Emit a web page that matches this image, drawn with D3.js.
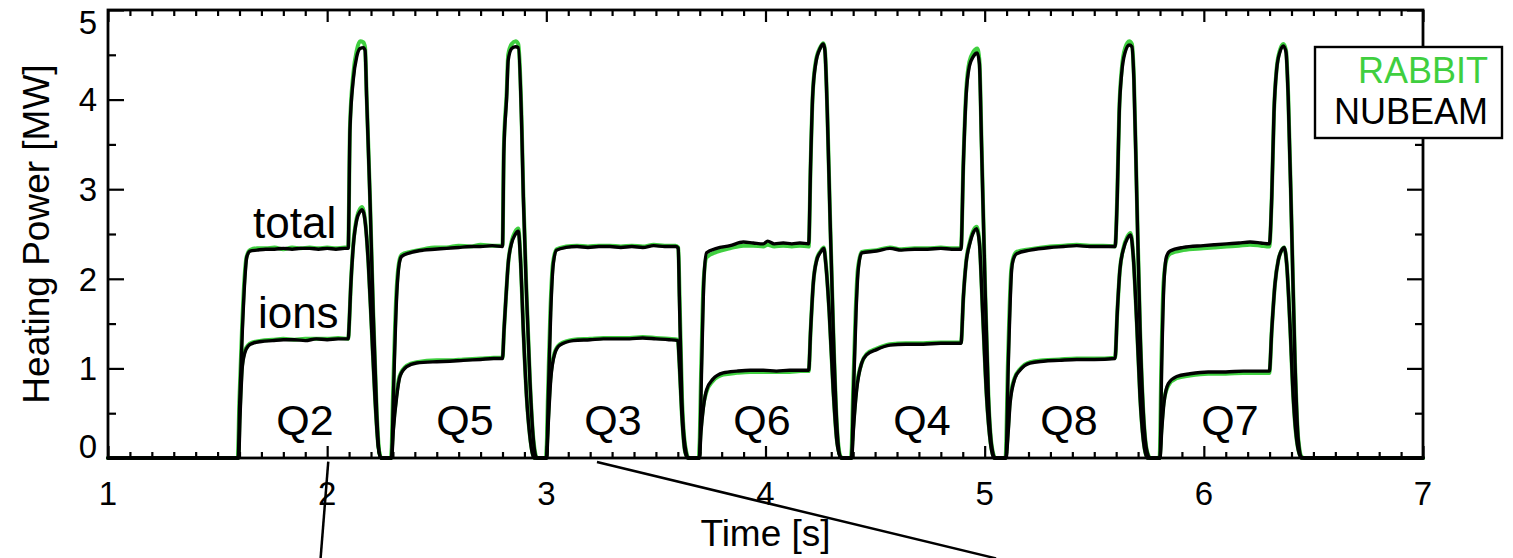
<!DOCTYPE html>
<html><head><meta charset="utf-8">
<script src="https://cdn.jsdelivr.net/npm/d3@7"></script>
<style>html,body{margin:0;padding:0;background:#fff;} svg{display:block;} text{font-family:"Liberation Sans",Arial,Helvetica,sans-serif;}</style>
</head><body><svg id="c" width="1513" height="558"></svg>
<script>
const xTicks = [1,2,3,4,5,6,7];
const yTicks = [0,1,2,3,4,5];
const xTitle = "Time [s]";
const yTitle = "Heating Power [MW]";
const legendLabels = ["RABBIT","NUBEAM"];
const qLabels = ["Q2","Q5","Q3","Q6","Q4","Q8","Q7"];
const qTimes = [1.899,2.629,3.304,3.984,4.714,5.385,6.119];
const seriesLabels = ["total","ions"];
const seriesLabelT = [1.662,1.684];
const seriesLabelV = [2.455,1.451];
const leaderLines = [[[2.005,-0.04],[1.970,-1.12]],[[3.231,-0.045],[5.052,-1.12]]];

const nubeamTotal = [
[1.000,0],[1.594,0],[1.601,0.62],[1.613,1.42],[1.624,1.98],[1.633,2.24],[1.648,2.31],[1.680,2.32],[1.720,2.33],[1.760,2.33],[1.800,2.34],[1.840,2.33],[1.880,2.34],[1.920,2.34],[1.960,2.33],[2.000,2.34],[2.040,2.33],[2.080,2.34],[2.096,2.34],[2.104,3.66],[2.119,4.22],[2.135,4.48],[2.150,4.57],[2.165,4.58],[2.173,4.55],[2.180,4.03],[2.195,2.92],[2.210,1.62],[2.226,0.50],[2.236,0.08],[2.245,0],
[2.294,0],[2.302,0.68],[2.317,1.80],[2.329,2.17],[2.340,2.25],[2.378,2.29],[2.439,2.32],[2.490,2.33],[2.545,2.34],[2.600,2.35],[2.652,2.36],[2.700,2.36],[2.753,2.37],[2.800,2.36],[2.806,3.40],[2.819,4.03],[2.826,4.44],[2.842,4.57],[2.860,4.59],[2.872,4.58],[2.888,3.66],[2.895,2.92],[2.910,1.80],[2.925,0.87],[2.941,0.20],[2.956,0],
[3.001,0],[3.009,0.68],[3.020,1.62],[3.032,2.17],[3.047,2.32],[3.090,2.35],[3.140,2.36],[3.190,2.35],[3.240,2.36],[3.290,2.36],[3.340,2.35],[3.390,2.36],[3.440,2.35],[3.490,2.37],[3.540,2.36],[3.590,2.36],[3.602,2.34],[3.607,1.80],[3.618,0.68],[3.633,0.13],[3.648,0],
[3.698,0],[3.709,1.06],[3.719,1.99],[3.731,2.29],[3.777,2.34],[3.838,2.37],[3.899,2.41],[3.944,2.40],[3.990,2.39],[4.010,2.42],[4.040,2.39],[4.081,2.40],[4.120,2.39],[4.157,2.40],[4.197,2.39],[4.206,3.29],[4.215,4.03],[4.229,4.40],[4.249,4.57],[4.264,4.62],[4.271,4.55],[4.282,3.85],[4.294,2.73],[4.309,1.43],[4.325,0.39],[4.340,0.02],[4.350,0],
[4.393,0],[4.401,0.68],[4.413,1.62],[4.423,2.10],[4.439,2.29],[4.507,2.31],[4.568,2.34],[4.620,2.32],[4.680,2.33],[4.740,2.33],[4.800,2.34],[4.850,2.33],[4.892,2.33],[4.903,3.29],[4.915,4.03],[4.930,4.37],[4.948,4.48],[4.966,4.52],[4.976,4.40],[4.986,3.47],[5.001,1.99],[5.017,0.68],[5.032,0.13],[5.047,0],
[5.097,0],[5.108,1.06],[5.123,2.10],[5.130,2.21],[5.146,2.28],[5.207,2.32],[5.298,2.35],[5.360,2.36],[5.420,2.37],[5.480,2.36],[5.540,2.36],[5.595,2.36],[5.605,2.92],[5.614,3.85],[5.625,4.29],[5.640,4.52],[5.660,4.61],[5.672,4.59],[5.681,4.22],[5.694,2.92],[5.709,1.43],[5.724,0.50],[5.739,0.09],[5.754,0],
[5.800,0],[5.808,1.06],[5.818,1.95],[5.830,2.25],[5.846,2.31],[5.906,2.35],[5.998,2.37],[6.050,2.38],[6.104,2.39],[6.160,2.40],[6.211,2.41],[6.260,2.40],[6.299,2.39],[6.310,2.92],[6.320,3.85],[6.332,4.33],[6.347,4.53],[6.363,4.60],[6.375,4.53],[6.385,4.03],[6.401,2.54],[6.416,1.06],[6.431,0.20],[6.446,0.01],[6.460,0],[7.000,0]
];
const nubeamIons = [
[1.000,0],[1.596,0],[1.603,0.50],[1.613,1.02],[1.625,1.18],[1.640,1.25],[1.660,1.28],[1.700,1.30],[1.750,1.31],[1.800,1.32],[1.850,1.32],[1.900,1.31],[1.950,1.33],[2.000,1.32],[2.050,1.33],[2.096,1.33],[2.101,1.52],[2.107,1.88],[2.119,2.36],[2.135,2.66],[2.150,2.75],[2.158,2.77],[2.166,2.74],[2.175,2.60],[2.188,2.17],[2.203,1.43],[2.218,0.68],[2.233,0.13],[2.245,0],
[2.294,0],[2.302,0.31],[2.317,0.68],[2.332,0.91],[2.363,1.02],[2.408,1.06],[2.500,1.075],[2.560,1.08],[2.621,1.09],[2.700,1.10],[2.760,1.11],[2.800,1.11],[2.807,1.43],[2.816,1.80],[2.826,2.17],[2.842,2.40],[2.857,2.49],[2.872,2.53],[2.883,2.17],[2.895,1.43],[2.910,0.68],[2.925,0.24],[2.945,0],
[3.001,0],[3.009,0.39],[3.020,0.87],[3.039,1.17],[3.062,1.26],[3.123,1.31],[3.200,1.32],[3.260,1.33],[3.320,1.33],[3.380,1.33],[3.440,1.34],[3.500,1.33],[3.560,1.32],[3.600,1.31],[3.607,1.06],[3.618,0.50],[3.633,0.07],[3.645,0],
[3.698,0],[3.706,0.30],[3.716,0.55],[3.731,0.76],[3.760,0.88],[3.807,0.95],[3.870,0.97],[3.930,0.98],[3.990,0.98],[4.050,0.97],[4.110,0.98],[4.160,0.98],[4.197,0.98],[4.206,1.43],[4.218,1.95],[4.234,2.21],[4.252,2.30],[4.266,2.34],[4.275,2.17],[4.291,1.62],[4.309,0.76],[4.327,0.16],[4.345,0],
[4.393,0],[4.401,0.31],[4.416,0.76],[4.439,1.06],[4.461,1.15],[4.507,1.21],[4.568,1.26],[4.640,1.27],[4.720,1.27],[4.800,1.28],[4.892,1.28],[4.903,1.80],[4.915,2.17],[4.933,2.40],[4.951,2.53],[4.963,2.56],[4.976,2.40],[4.991,1.62],[5.009,0.68],[5.027,0.16],[5.042,0],
[5.097,0],[5.108,0.31],[5.116,0.61],[5.138,0.89],[5.161,0.98],[5.207,1.06],[5.268,1.08],[5.340,1.09],[5.420,1.10],[5.500,1.10],[5.595,1.11],[5.605,1.62],[5.617,2.10],[5.632,2.32],[5.651,2.45],[5.666,2.49],[5.678,2.25],[5.694,1.50],[5.709,0.68],[5.724,0.20],[5.742,0],
[5.800,0],[5.808,0.31],[5.818,0.61],[5.838,0.83],[5.876,0.91],[5.937,0.94],[6.020,0.96],[6.100,0.96],[6.180,0.97],[6.250,0.97],[6.299,0.97],[6.310,1.43],[6.325,1.95],[6.340,2.21],[6.355,2.32],[6.366,2.35],[6.378,2.17],[6.393,1.50],[6.408,0.68],[6.426,0.16],[6.445,0],[7.000,0]
];
const rabbitTotal = [
[1.000,0],[1.592,0],[1.599,0.62],[1.611,1.42],[1.622,1.98],[1.632,2.24],[1.648,2.32],[1.680,2.34],[1.720,2.34],[1.760,2.35],[1.800,2.33],[1.840,2.35],[1.880,2.34],[1.920,2.35],[1.960,2.34],[2.000,2.35],[2.040,2.34],[2.080,2.35],[2.096,2.35],[2.104,3.70],[2.119,4.28],[2.135,4.55],[2.150,4.65],[2.165,4.64],[2.173,4.58],[2.180,4.05],[2.195,2.94],[2.210,1.64],[2.226,0.52],[2.238,0.06],[2.248,0],
[2.292,0],[2.300,0.68],[2.315,1.80],[2.327,2.17],[2.340,2.27],[2.378,2.30],[2.439,2.33],[2.490,2.35],[2.545,2.35],[2.600,2.37],[2.652,2.36],[2.700,2.38],[2.753,2.37],[2.800,2.37],[2.806,3.45],[2.819,4.08],[2.826,4.50],[2.842,4.62],[2.860,4.65],[2.872,4.62],[2.888,3.70],[2.895,2.95],[2.910,1.82],[2.925,0.88],[2.941,0.21],[2.958,0],
[2.999,0],[3.007,0.68],[3.018,1.62],[3.030,2.17],[3.047,2.33],[3.090,2.36],[3.140,2.37],[3.190,2.36],[3.240,2.37],[3.290,2.37],[3.340,2.36],[3.390,2.37],[3.440,2.36],[3.490,2.38],[3.540,2.37],[3.590,2.37],[3.602,2.35],[3.608,1.80],[3.619,0.68],[3.634,0.13],[3.650,0],
[3.696,0],[3.707,1.06],[3.717,1.95],[3.731,2.24],[3.777,2.30],[3.838,2.34],[3.899,2.37],[3.944,2.37],[3.990,2.36],[4.010,2.38],[4.040,2.36],[4.081,2.37],[4.120,2.36],[4.157,2.37],[4.197,2.36],[4.206,3.29],[4.215,4.03],[4.229,4.42],[4.249,4.58],[4.264,4.63],[4.271,4.56],[4.282,3.87],[4.294,2.75],[4.309,1.45],[4.325,0.40],[4.342,0.02],[4.352,0],
[4.391,0],[4.399,0.68],[4.411,1.62],[4.421,2.10],[4.439,2.30],[4.507,2.32],[4.568,2.35],[4.620,2.33],[4.680,2.34],[4.740,2.34],[4.800,2.35],[4.850,2.34],[4.892,2.34],[4.903,3.31],[4.915,4.07],[4.930,4.42],[4.948,4.53],[4.966,4.57],[4.976,4.44],[4.986,3.50],[5.001,2.01],[5.017,0.69],[5.032,0.14],[5.049,0],
[5.095,0],[5.106,1.06],[5.121,2.10],[5.130,2.23],[5.146,2.30],[5.207,2.33],[5.298,2.36],[5.360,2.37],[5.420,2.38],[5.480,2.37],[5.540,2.37],[5.595,2.36],[5.605,2.95],[5.614,3.88],[5.625,4.33],[5.640,4.57],[5.660,4.65],[5.672,4.62],[5.681,4.25],[5.694,2.94],[5.709,1.45],[5.724,0.51],[5.739,0.10],[5.756,0],
[5.798,0],[5.806,1.06],[5.816,1.95],[5.830,2.22],[5.846,2.28],[5.906,2.32],[5.998,2.34],[6.050,2.35],[6.104,2.36],[6.160,2.37],[6.211,2.38],[6.260,2.37],[6.299,2.36],[6.310,2.92],[6.320,3.85],[6.332,4.34],[6.347,4.55],[6.363,4.62],[6.375,4.55],[6.385,4.05],[6.401,2.56],[6.416,1.07],[6.431,0.21],[6.448,0.01],[6.462,0],[7.000,0]
];
const rabbitIons = [
[1.000,0],[1.594,0],[1.601,0.50],[1.611,1.02],[1.623,1.19],[1.640,1.26],[1.660,1.29],[1.700,1.31],[1.750,1.32],[1.800,1.33],[1.850,1.32],[1.900,1.33],[1.950,1.33],[2.000,1.33],[2.050,1.34],[2.096,1.33],[2.101,1.52],[2.107,1.88],[2.119,2.38],[2.135,2.68],[2.150,2.78],[2.158,2.80],[2.166,2.76],[2.175,2.61],[2.188,2.18],[2.203,1.44],[2.218,0.69],[2.233,0.14],[2.247,0],
[2.292,0],[2.300,0.31],[2.315,0.68],[2.330,0.91],[2.363,1.03],[2.408,1.07],[2.500,1.09],[2.560,1.09],[2.621,1.10],[2.700,1.11],[2.760,1.12],[2.800,1.12],[2.807,1.43],[2.816,1.80],[2.826,2.17],[2.842,2.42],[2.857,2.52],[2.872,2.56],[2.883,2.19],[2.895,1.44],[2.910,0.69],[2.925,0.25],[2.947,0],
[2.999,0],[3.007,0.39],[3.018,0.87],[3.037,1.17],[3.062,1.27],[3.123,1.32],[3.200,1.33],[3.260,1.34],[3.320,1.34],[3.380,1.34],[3.440,1.35],[3.500,1.34],[3.560,1.33],[3.600,1.32],[3.607,1.06],[3.618,0.50],[3.633,0.07],[3.647,0],
[3.696,0],[3.704,0.30],[3.714,0.55],[3.731,0.74],[3.760,0.86],[3.807,0.93],[3.870,0.95],[3.930,0.96],[3.990,0.96],[4.050,0.96],[4.110,0.96],[4.160,0.97],[4.197,0.97],[4.206,1.43],[4.218,1.95],[4.234,2.22],[4.252,2.31],[4.266,2.35],[4.275,2.18],[4.291,1.63],[4.309,0.77],[4.327,0.17],[4.347,0],
[4.391,0],[4.399,0.31],[4.414,0.76],[4.439,1.06],[4.461,1.16],[4.507,1.22],[4.568,1.27],[4.640,1.28],[4.720,1.28],[4.800,1.29],[4.892,1.29],[4.903,1.80],[4.915,2.18],[4.933,2.42],[4.951,2.55],[4.963,2.58],[4.976,2.42],[4.991,1.63],[5.009,0.69],[5.027,0.17],[5.044,0],
[5.095,0],[5.106,0.31],[5.114,0.61],[5.136,0.89],[5.161,0.99],[5.207,1.07],[5.268,1.09],[5.340,1.10],[5.420,1.11],[5.500,1.11],[5.595,1.12],[5.605,1.62],[5.617,2.10],[5.632,2.33],[5.651,2.47],[5.666,2.51],[5.678,2.26],[5.694,1.51],[5.709,0.69],[5.724,0.21],[5.744,0],
[5.798,0],[5.806,0.31],[5.816,0.61],[5.838,0.81],[5.876,0.89],[5.937,0.92],[6.020,0.94],[6.100,0.94],[6.180,0.95],[6.250,0.95],[6.299,0.95],[6.310,1.43],[6.325,1.95],[6.340,2.21],[6.355,2.32],[6.366,2.35],[6.378,2.17],[6.393,1.50],[6.408,0.68],[6.426,0.16],[6.447,0],[7.000,0]
];

const GREEN = "#3fcf3f";
const svg = d3.select("#c");
const L = 108, R = 1423, T = 10, B = 458;
const x = d3.scaleLinear().domain([1,7]).range([L,R]);
const y = d3.scaleLinear().domain([0,5]).range([B,T]);

const line = d3.line().x(d => x(d[0])).y(d => y(d[1])).curve(d3.curveMonotoneX);

// data lines
[[rabbitTotal,GREEN,4],[rabbitIons,GREEN,4],[nubeamTotal,"#000",3.4],[nubeamIons,"#000",3.4]].forEach(([d,c,w]) => {
  svg.append("path").datum(d).attr("d",line).attr("fill","none").attr("stroke",c)
    .attr("stroke-width",w).attr("stroke-linejoin","round").attr("stroke-linecap","round");
});

// axes ticks (inward)
const minorX = d3.range(10,71).map(v=>v/10).filter(v=>Math.abs(v-Math.round(v))>1e-6);
const minorY = [0.5,1.5,2.5,3.5,4.5];
function styleAxis(g){ g.select(".domain").remove(); g.selectAll("text").remove(); g.selectAll("line").attr("stroke","#000").attr("stroke-width",2.2); }
svg.append("g").attr("transform",`translate(0,${B})`).call(d3.axisBottom(x).tickValues(xTicks).tickSize(-12)).call(styleAxis);
svg.append("g").attr("transform",`translate(0,${B})`).call(d3.axisBottom(x).tickValues(minorX).tickSize(-6)).call(styleAxis);
svg.append("g").attr("transform",`translate(0,${T})`).call(d3.axisTop(x).tickValues(xTicks).tickSize(-12)).call(styleAxis);
svg.append("g").attr("transform",`translate(0,${T})`).call(d3.axisTop(x).tickValues(minorX).tickSize(-6)).call(styleAxis);
svg.append("g").attr("transform",`translate(${L},0)`).call(d3.axisLeft(y).tickValues(yTicks).tickSize(-16)).call(styleAxis);
svg.append("g").attr("transform",`translate(${L},0)`).call(d3.axisLeft(y).tickValues(minorY).tickSize(-8)).call(styleAxis);
svg.append("g").attr("transform",`translate(${R},0)`).call(d3.axisRight(y).tickValues(yTicks).tickSize(-16)).call(styleAxis);
svg.append("g").attr("transform",`translate(${R},0)`).call(d3.axisRight(y).tickValues(minorY).tickSize(-8)).call(styleAxis);

// frame
svg.append("rect").attr("x",L).attr("y",T).attr("width",R-L).attr("height",B-T)
  .attr("fill","none").attr("stroke","#000").attr("stroke-width",2.8);

// tick labels
svg.selectAll(".xl").data(xTicks).enter().append("text")
  .attr("x",d=>x(d)).attr("y",B+47).attr("text-anchor","middle")
  .attr("font-size",33).text(d=>d);
svg.selectAll(".yl").data(yTicks).enter().append("text")
  .attr("x",L-11).attr("y",d=>y(d)).attr("text-anchor","end").attr("font-size",33)
  .attr("dy",d=> d===0 ? "0em" : (d===5 ? "0.72em" : "0.36em")).text(d=>d);

// axis titles
svg.append("text").attr("x",(L+R)/2).attr("y",546).attr("text-anchor","middle").attr("font-size",37).text(xTitle);
svg.append("text").attr("transform",`translate(49,${(T+B)/2}) rotate(-90)`).attr("text-anchor","middle").attr("font-size",37).text(yTitle);

// annotations
svg.selectAll(".q").data(qLabels).enter().append("text")
  .attr("x",(d,i)=>x(qTimes[i])).attr("y",y(0.257)).attr("text-anchor","middle").attr("font-size",43).text(d=>d);
svg.selectAll(".sl").data(seriesLabels).enter().append("text")
  .attr("x",(d,i)=>x(seriesLabelT[i])).attr("y",(d,i)=>y(seriesLabelV[i])).attr("font-size",44).text(d=>d);

// leader lines
leaderLines.forEach(l => {
  svg.append("line").attr("x1",x(l[0][0])).attr("y1",y(l[0][1])).attr("x2",x(l[1][0])).attr("y2",y(l[1][1]))
    .attr("stroke","#000").attr("stroke-width",2.5);
});

// legend
svg.append("rect").attr("x",1315).attr("y",47).attr("width",187).attr("height",91)
  .attr("fill","#fff").attr("stroke","#000").attr("stroke-width",2.4);
svg.selectAll(".lg").data(legendLabels).enter().append("text")
  .attr("x",1488).attr("y",(d,i)=>83+i*40.5).attr("text-anchor","end").attr("font-size",36)
  .attr("fill",(d,i)=> i===0 ? GREEN : "#000").text(d=>d);
</script></body></html>
